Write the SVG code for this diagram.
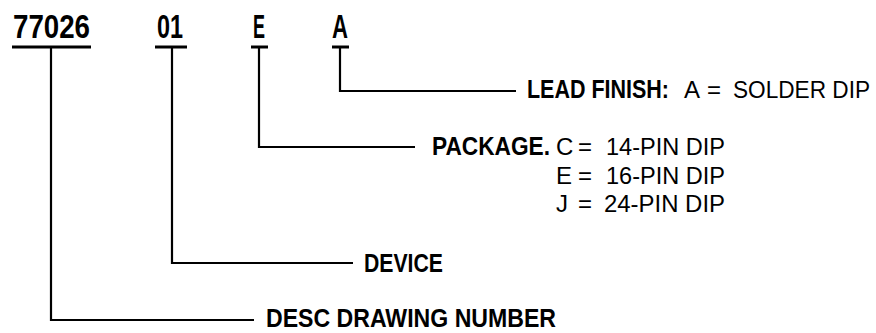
<svg xmlns="http://www.w3.org/2000/svg" width="876" height="333" viewBox="0 0 876 333">
<style>
.bg{fill:#fff}
.code{font-family:"Liberation Sans Narrow","Liberation Sans",Arial,sans-serif;font-weight:bold;font-size:34px;fill:#000}
.lbl{font-family:"Liberation Sans Narrow","Liberation Sans",Arial,sans-serif;font-weight:bold;font-size:25px;fill:#000}
.val{font-family:"Liberation Sans Narrow","Liberation Sans",Arial,sans-serif;font-size:24px;fill:#000}
.ul{stroke:#000;stroke-width:3;fill:none}
.con{stroke:#000;stroke-width:2.2;fill:none}
</style>
<rect class="bg" x="0" y="0" width="876" height="333"/>
<g id="code-77026">
<text class="code" x="13" y="38" textLength="77" lengthAdjust="spacingAndGlyphs">77026</text>
<line class="ul" x1="12" y1="47" x2="91" y2="47"/>
</g>
<g id="code-01">
<text class="code" x="157" y="38" textLength="26" lengthAdjust="spacingAndGlyphs">01</text>
<line class="ul" x1="155" y1="47" x2="187" y2="47"/>
</g>
<g id="code-E">
<text class="code" x="253" y="38" textLength="12" lengthAdjust="spacingAndGlyphs">E</text>
<line class="ul" x1="251" y1="47" x2="268" y2="47"/>
</g>
<g id="code-A">
<text class="code" x="332" y="38" textLength="16" lengthAdjust="spacingAndGlyphs">A</text>
<line class="ul" x1="332" y1="47" x2="349" y2="47"/>
</g>
<g id="connectors">
<path class="con" d="M51 47 V320 H254"/>
<path class="con" d="M172 47 V263 H353"/>
<path class="con" d="M259 47 V147 H415"/>
<path class="con" d="M340 47 V91 H516"/>
</g>
<g id="lead-finish">
<text class="lbl" x="527" y="98" textLength="142" lengthAdjust="spacingAndGlyphs">LEAD FINISH:</text>
<text class="val" y="98"><tspan x="684">A</tspan><tspan x="707">=</tspan><tspan x="733" textLength="137" lengthAdjust="spacingAndGlyphs">SOLDER DIP</tspan></text>
</g>
<g id="package">
<text class="lbl" x="432" y="155" textLength="118" lengthAdjust="spacingAndGlyphs">PACKAGE.</text>
<text class="val" y="155"><tspan x="556">C</tspan><tspan x="578">=</tspan><tspan x="606" textLength="119" lengthAdjust="spacingAndGlyphs">14-PIN DIP</tspan></text>
<text class="val" y="184"><tspan x="556">E</tspan><tspan x="578">=</tspan><tspan x="606" textLength="119" lengthAdjust="spacingAndGlyphs">16-PIN DIP</tspan></text>
<text class="val" y="212"><tspan x="556">J</tspan><tspan x="578">=</tspan><tspan x="604" textLength="121" lengthAdjust="spacingAndGlyphs">24-PIN DIP</tspan></text>
</g>
<g id="device">
<text class="lbl" x="364" y="272" textLength="79" lengthAdjust="spacingAndGlyphs">DEVICE</text>
</g>
<g id="desc-drawing-number">
<text class="lbl" x="266" y="327" textLength="290" lengthAdjust="spacingAndGlyphs">DESC DRAWING NUMBER</text>
</g>
</svg>
